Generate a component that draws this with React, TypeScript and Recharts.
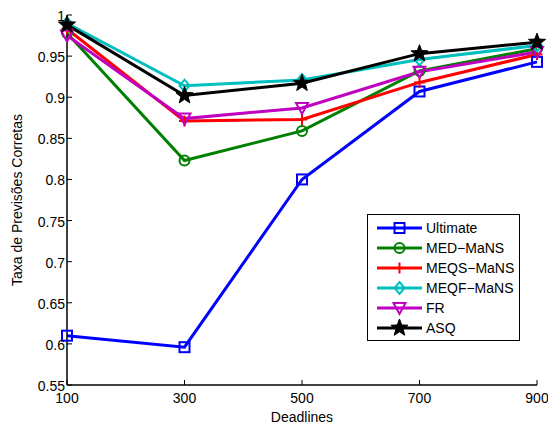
import React from "react";
import { LineChart, Line, XAxis, YAxis, Legend } from "recharts";

if (typeof document !== "undefined") document.body.style.margin = "0";

const DEADLINES = [100, 300, 500, 700, 900];
const ULTIMATE = [0.61, 0.596, 0.8, 0.907, 0.943];
const MED_MANS = [0.978, 0.823, 0.859, 0.932, 0.959];
const MEQS_MANS = [0.983, 0.871, 0.873, 0.918, 0.952];
const MEQF_MANS = [0.99, 0.914, 0.921, 0.946, 0.963];
const FR = [0.975, 0.874, 0.887, 0.931, 0.955];
const ASQ = [0.988, 0.902, 0.917, 0.953, 0.967];
const Y_TICKS = [0.55, 0.6, 0.65, 0.7, 0.75, 0.8, 0.85, 0.9, 0.95, 1];

type Marker = "square" | "circle" | "plus" | "diamond" | "triangle" | "star";

const SERIES: { key: string; name: string; values: number[]; color: string; marker: Marker }[] = [
  { key: "ultimate", name: "Ultimate", values: ULTIMATE, color: "#0000ff", marker: "square" },
  { key: "med", name: "MED\u2212MaNS", values: MED_MANS, color: "#008000", marker: "circle" },
  { key: "meqs", name: "MEQS\u2212MaNS", values: MEQS_MANS, color: "#ff0000", marker: "plus" },
  { key: "meqf", name: "MEQF\u2212MaNS", values: MEQF_MANS, color: "#00bfbf", marker: "diamond" },
  { key: "fr", name: "FR", values: FR, color: "#bf00bf", marker: "triangle" },
  { key: "asq", name: "ASQ", values: ASQ, color: "#000000", marker: "star" },
];

const data = DEADLINES.map((d, i) => {
  const row: Record<string, number> = { deadline: d };
  SERIES.forEach((s) => (row[s.key] = s.values[i]));
  return row;
});

const FONT = "'Liberation Sans', Arial, sans-serif";

function starPath(cx: number, cy: number, r: number) {
  const pts: string[] = [];
  for (let i = 0; i < 10; i++) {
    const rr = i % 2 === 0 ? r : r * 0.42;
    const a = -Math.PI / 2 + (i * Math.PI) / 5;
    pts.push(`${cx + rr * Math.cos(a)},${cy + rr * Math.sin(a)}`);
  }
  return pts.join(" ");
}

function MarkerShape({ cx, cy, type, color }: { cx: number; cy: number; type: Marker; color: string }) {
  const sw = 2;
  switch (type) {
    case "square":
      return <rect x={cx - 5} y={cy - 5} width={10} height={10} fill="none" stroke={color} strokeWidth={sw} />;
    case "circle":
      return <circle cx={cx} cy={cy} r={5} fill="none" stroke={color} strokeWidth={sw} />;
    case "plus":
      return (
        <g stroke={color} strokeWidth={sw}>
          <line x1={cx - 5.5} y1={cy} x2={cx + 5.5} y2={cy} />
          <line x1={cx} y1={cy - 5.5} x2={cx} y2={cy + 5.5} />
        </g>
      );
    case "diamond":
      return (
        <polygon
          points={`${cx},${cy - 6} ${cx + 5},${cy} ${cx},${cy + 6} ${cx - 5},${cy}`}
          fill="none"
          stroke={color}
          strokeWidth={sw}
        />
      );
    case "triangle":
      return (
        <polygon
          points={`${cx - 6},${cy - 5} ${cx + 6},${cy - 5} ${cx},${cy + 6}`}
          fill="none"
          stroke={color}
          strokeWidth={sw}
        />
      );
    case "star":
      return <polygon points={starPath(cx, cy, 9)} fill={color} stroke={color} strokeWidth={1} />;
  }
}

const makeDot = (type: Marker, color: string) => (props: any) => {
  const { cx, cy, index } = props;
  if (cx == null || cy == null) return <g key={index} />;
  return (
    <g key={index}>
      <MarkerShape cx={cx} cy={cy} type={type} color={color} />
    </g>
  );
};

function LegendBox() {
  return (
    <div
      style={{
        width: 153,
        height: 127,
        border: "1.5px solid #000",
        background: "#fff",
        fontFamily: FONT,
        fontSize: 14,
        boxSizing: "border-box",
      }}
    >
      <svg width={150} height={124} style={{ display: "block" }}>
        {SERIES.map((s, i) => {
          const y = 13 + i * 20;
          return (
            <g key={s.key}>
              <line x1={9} y1={y} x2={54} y2={y} stroke={s.color} strokeWidth={3} />
              <MarkerShape cx={31.5} cy={y} type={s.marker} color={s.color} />
              <text x={58} y={y + 5} fontSize={14} fontFamily={FONT} fill="#000">
                {s.name}
              </text>
            </g>
          );
        })}
      </svg>
    </div>
  );
}

const fmt = (v: number) => String(Number(v.toFixed(2)));

export default function App() {
  const tickStyle = { fontSize: 14, fill: "#000", fontFamily: FONT };
  return (
    <div style={{ width: 548, height: 424, background: "#fff", position: "relative" }}>
      <LineChart
        width={548}
        height={424}
        data={data}
        margin={{ top: 15, right: 11, bottom: 0, left: 0 }}
        style={{ fontFamily: FONT }}
      >
        <XAxis
          xAxisId="b"
          dataKey="deadline"
          type="number"
          domain={[100, 900]}
          ticks={DEADLINES}
          orientation="bottom"
          height={39}
          tickSize={-5}
          tickMargin={13}
          tick={tickStyle}
          axisLine={{ stroke: "#000", strokeWidth: 1.5 }}
          tickLine={{ stroke: "#000" }}
          label={{ value: "Deadlines", position: "insideBottom", offset: 2, fontSize: 14, fill: "#000", fontFamily: FONT }}
          interval={0}
        />
        <XAxis
          xAxisId="t"
          dataKey="deadline"
          type="number"
          domain={[100, 900]}
          ticks={DEADLINES}
          orientation="top"
          height={0}
          tickSize={-5}
          tickFormatter={() => ""}
          axisLine={{ stroke: "#000", strokeWidth: 1.5 }}
          tickLine={{ stroke: "#000" }}
        />
        <YAxis
          yAxisId="l"
          type="number"
          domain={[0.55, 1]}
          ticks={Y_TICKS}
          orientation="left"
          width={67}
          tickSize={-5}
          tickMargin={7}
          tickFormatter={fmt}
          tick={{ ...tickStyle, dy: 1 }}
          axisLine={{ stroke: "#000", strokeWidth: 1.5 }}
          tickLine={{ stroke: "#000" }}
          interval={0}
          label={{
            value: "Taxa de Previsões Corretas",
            angle: -90,
            position: "insideLeft",
            offset: 17,
            style: { textAnchor: "middle", fontSize: 14, fill: "#000", fontFamily: FONT },
          }}
        />
        <YAxis
          yAxisId="r"
          type="number"
          domain={[0.55, 1]}
          ticks={Y_TICKS}
          orientation="right"
          width={0}
          tickSize={-5}
          tickFormatter={() => ""}
          axisLine={{ stroke: "#000", strokeWidth: 1.5 }}
          tickLine={{ stroke: "#000" }}
        />
        {SERIES.map((s) => (
          <Line
            key={s.key}
            xAxisId="b"
            yAxisId="l"
            dataKey={s.key}
            name={s.name}
            type="linear"
            stroke={s.color}
            strokeWidth={3}
            dot={makeDot(s.marker, s.color)}
            activeDot={false}
            isAnimationActive={false}
          />
        ))}
        <Legend
          layout="vertical"
          align="center"
          verticalAlign="middle"
          content={() => <LegendBox />}
          wrapperStyle={{ position: "absolute", left: 367, top: 214, width: 153, height: 127 }}
        />
      </LineChart>
    </div>
  );
}
